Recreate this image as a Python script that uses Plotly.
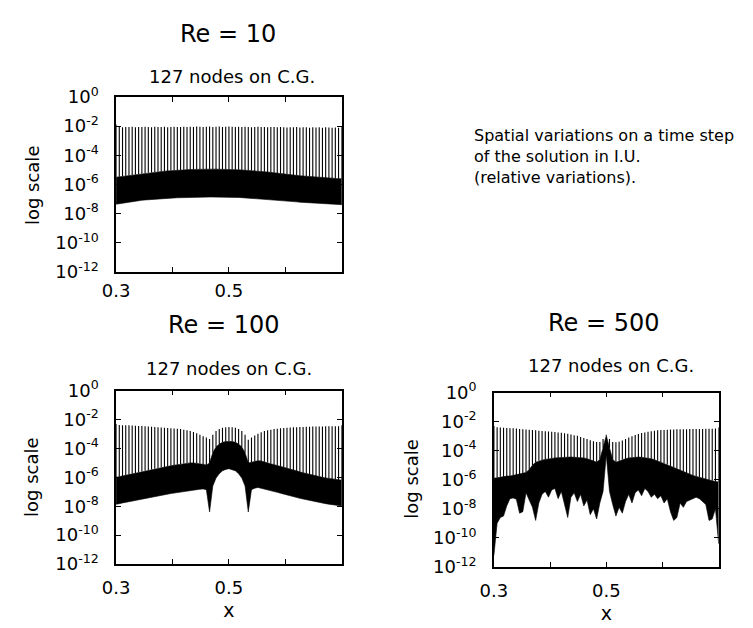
import numpy as np
import plotly.graph_objects as go

# ---------------- data (log10 exponents) ----------------
N_NODES = 71
X_START, X_END = 0.3, 0.7
NODE_X = np.linspace(X_START, X_END, N_NODES)  # uniform grid of mesh nodes

PANEL_TITLES = ["Re = 10", "Re = 100", "Re = 500"]
PANEL_SUBTITLE = "127 nodes on C.G."
NOTE_LINES = ["Spatial variations on a time step", "of the solution in I.U.", "(relative variations)."]

Y_TICK_EXP = [0, -2, -4, -6, -8, -10, -12]
X_TICK_VALS = [0.3, 0.4, 0.5, 0.6, 0.7]
X_TICK_TEXT = ["0.3", "", "0.5", "", ""]

# Re = 10
re10_spike_top = [-1.90, -2.05, -2.08, -2.06, -2.07, -2.05, -2.08, -2.06, -2.07, -2.05,
                  -2.06, -2.08, -2.05, -2.07, -2.06, -2.05, -2.08, -2.06, -2.05, -2.07,
                  -2.06, -2.05, -2.07, -2.05, -2.06, -2.04, -2.05, -2.07, -2.05, -2.04,
                  -2.06, -2.05, -2.04, -2.06, -2.05, -2.04, -2.05, -2.06, -2.05, -2.07,
                  -2.05, -2.06, -2.08, -2.06, -2.05, -2.07, -2.06, -2.08, -2.06, -2.07,
                  -2.09, -2.07, -2.08, -2.10, -2.08, -2.09, -2.07, -2.10, -2.08, -2.09,
                  -2.11, -2.09, -2.10, -2.08, -2.11, -2.09, -2.10, -2.12, -2.10, -2.11,
                  -2.00]
re10_band_top = [-5.50, -5.47, -5.44, -5.41, -5.38, -5.35, -5.32, -5.29, -5.26, -5.23, -5.20,
                 -5.18, -5.15, -5.13, -5.11, -5.09, -5.07, -5.05, -5.03, -5.02, -5.01,
                 -5.00, -4.99, -4.98, -4.97, -4.96, -4.96, -4.95, -4.95, -4.95, -4.95, -4.95, -4.95, -4.96, -4.96, -4.97,
                 -4.98, -4.99, -5.00, -5.01, -5.02, -5.03, -5.05, -5.07, -5.09, -5.11, -5.13, -5.15, -5.18, -5.20, -5.23,
                 -5.25, -5.28, -5.30, -5.33, -5.35, -5.38, -5.40, -5.42, -5.44, -5.46,
                 -5.48, -5.50, -5.52, -5.54, -5.56, -5.57, -5.58, -5.59, -5.60, -5.60]
re10_band_bottom = [-7.35, -7.31, -7.27, -7.23, -7.20, -7.17, -7.14, -7.11, -7.08, -7.06, -7.04,
                    -7.02, -7.00, -6.98, -6.97, -6.95, -6.94, -6.93, -6.92, -6.91, -6.90,
                    -6.89, -6.88, -6.88, -6.87, -6.87, -6.86, -6.86, -6.86, -6.86, -6.86, -6.86, -6.86, -6.86, -6.87, -6.87,
                    -6.88, -6.88, -6.89, -6.90, -6.91, -6.92, -6.93, -6.94, -6.96, -6.97, -6.99, -7.01, -7.03, -7.05, -7.07,
                    -7.09, -7.11, -7.13, -7.15, -7.17, -7.19, -7.21, -7.23, -7.25, -7.27,
                    -7.29, -7.30, -7.31, -7.32, -7.33, -7.34, -7.35, -7.36, -7.37, -7.38]

# Re = 100
re100_spike_top = [-2.30,
                   -2.38, -2.39, -2.40, -2.40, -2.42, -2.43, -2.44, -2.45, -2.47, -2.48,
                   -2.50, -2.51, -2.53, -2.55, -2.56, -2.58, -2.60, -2.62, -2.64, -2.66,
                   -2.70, -2.74, -2.80, -2.86, -2.95, -3.05, -3.15, -3.25,
                   -3.35,
                   -3.05, -2.80, -2.65, -2.57, -2.53, -2.52, -2.53, -2.57, -2.65, -2.80, -3.05,
                   -3.40,
                   -3.25, -3.10, -2.98, -2.88, -2.80, -2.74, -2.70, -2.66, -2.63,
                   -2.60, -2.58, -2.56, -2.55, -2.54, -2.53, -2.52, -2.51, -2.50, -2.50,
                   -2.49, -2.49, -2.48, -2.48, -2.47, -2.47, -2.47, -2.46, -2.46, -2.40]
re100_band_top = [-6.00, -5.95, -5.90, -5.85, -5.80, -5.75, -5.70, -5.65, -5.60, -5.55, -5.50,
                  -5.45, -5.40, -5.36, -5.32, -5.28, -5.24, -5.20, -5.16, -5.12, -5.08,
                  -5.05, -5.02, -5.00, -5.00, -5.02, -5.05, -5.10, -5.15,
                  -5.00,
                  -4.30, -3.90, -3.70, -3.58, -3.52, -3.50, -3.52, -3.58, -3.70, -3.90, -4.30,
                  -5.00,
                  -4.95, -4.88, -4.85, -4.87, -4.92, -4.98, -5.05, -5.12, -5.18,
                  -5.25, -5.32, -5.38, -5.44, -5.50, -5.56, -5.62, -5.68, -5.74, -5.80,
                  -5.85, -5.90, -5.95, -6.00, -6.04, -6.08, -6.12, -6.15, -6.18, -6.20]
re100_band_bottom = [-7.87, -7.82, -7.77, -7.72, -7.67, -7.62, -7.57, -7.52, -7.48, -7.44, -7.40,
                     -7.36, -7.32, -7.28, -7.24, -7.20, -7.16, -7.12, -7.09, -7.06, -7.03,
                     -7.00, -6.97, -6.94, -6.90, -6.86, -6.82, -6.80, -6.85,
                     -8.40,
                     -6.60, -6.05, -5.75, -5.55, -5.45, -5.40, -5.45, -5.55, -5.75, -6.05, -6.60,
                     -8.40,
                     -6.85, -6.75, -6.70, -6.74, -6.80, -6.86, -6.92, -6.98, -7.04,
                     -7.10, -7.16, -7.22, -7.28, -7.34, -7.40, -7.45, -7.50, -7.55, -7.60,
                     -7.65, -7.70, -7.74, -7.78, -7.82, -7.86, -7.90, -7.93, -7.96, -7.98]

# Re = 500
re500_spike_top = [-2.30,
                   -2.39, -2.40, -2.42, -2.43, -2.45, -2.46, -2.48, -2.50, -2.52, -2.54,
                   -2.56, -2.58, -2.60, -2.62, -2.64, -2.66, -2.68, -2.70, -2.72, -2.74,
                   -2.77, -2.80, -2.84, -2.88, -2.93, -2.98, -3.05, -3.12, -3.20, -3.28,
                   -3.35, -3.40, -3.40, -3.20,
                   -2.90,
                   -3.20, -3.40, -3.42, -3.38,
                   -3.30, -3.20, -3.10, -3.00, -2.92, -2.85, -2.79, -2.74, -2.70, -2.66, -2.63,
                   -2.60, -2.58, -2.57, -2.56, -2.55, -2.54, -2.53, -2.53, -2.52, -2.52,
                   -2.51, -2.51, -2.50, -2.50, -2.50, -2.49, -2.49, -2.49, -2.48, -2.40]
re500_band_top = [-5.90, -5.85, -5.80, -5.80, -5.75, -5.75, -5.70, -5.70, -5.65, -5.60, -5.50,
                  -5.30, -5.00, -4.80, -4.70, -4.65, -4.60, -4.55, -4.52, -4.50, -4.48,
                  -4.46, -4.45, -4.44, -4.44, -4.45, -4.46, -4.48, -4.50, -4.55, -4.60,
                  -4.70, -4.80, -4.60, -3.80,
                  -2.95,
                  -3.80, -4.60, -4.80, -4.70,
                  -4.60, -4.55, -4.50, -4.47, -4.45, -4.44, -4.45, -4.47, -4.50, -4.55, -4.62,
                  -4.70, -4.78, -4.86, -4.95, -5.05, -5.15, -5.25, -5.35, -5.45, -5.55,
                  -5.62, -5.70, -5.77, -5.84, -5.90, -5.96, -6.02, -6.07, -6.12, -6.15]
re500_band_bottom = [-11.20,
                     -9.00, -8.60, -8.50, -7.80, -7.30, -7.25, -7.35, -8.30, -8.20, -6.90,
                     -7.40, -7.90, -8.80, -7.60, -7.00, -6.80, -7.20, -6.70, -6.60, -7.30,
                     -6.80, -7.60, -8.60, -7.20, -6.90, -7.50, -7.00, -7.80, -7.40, -8.40,
                     -8.00, -8.70, -7.60, -6.80,
                     -4.30,
                     -6.80, -7.70, -8.50, -7.90,
                     -8.30, -7.50, -7.00, -7.60, -6.90, -6.70, -7.10, -6.60, -6.80, -7.20, -7.00,
                     -7.30, -7.10, -7.60, -7.30, -8.20, -8.80, -8.60, -7.60, -7.90, -7.50,
                     -7.40, -7.30, -7.20, -7.30, -7.50, -7.70, -8.80, -8.70, -8.00, -10.40]

PANELS = [
    (re10_spike_top, re10_band_top, re10_band_bottom),
    (re100_spike_top, re100_band_top, re100_band_bottom),
    (re500_spike_top, re500_band_top, re500_band_bottom),
]

# ---------------- layout geometry (pixels of the 753x628 page) ----------------
W, H = 753, 628
FONT = "DejaVu Sans, Liberation Sans, Arial, sans-serif"
# (left, right, top, bottom) of each plot box
BOXES = [(104, 334, 87, 269), (104, 334, 392, 572), (489, 718, 394, 575)]
X_LABEL_STANDOFF = [2, 7, 7]


def px_x(p):
    return p / W


def px_y(p):
    return 1 - p / H


fig = go.Figure()

for k, (spike, btop, bbot) in enumerate(PANELS):
    xa = "x" if k == 0 else f"x{k + 1}"
    ya = "y" if k == 0 else f"y{k + 1}"
    xs = list(NODE_X)
    # dense oscillation band
    poly_x = xs + xs[::-1]
    poly_y = [10 ** v for v in btop] + [10 ** v for v in bbot[::-1]]
    fig.add_trace(go.Scatter(x=poly_x, y=poly_y, mode="lines", fill="toself",
                             fillcolor="black", line=dict(color="black", width=0.6),
                             xaxis=xa, yaxis=ya, showlegend=False, hoverinfo="skip"))
    # node-to-node spikes
    sx, sy = [], []
    for x, b, s in zip(xs, btop, spike):
        sx += [x, x, None]
        sy += [10 ** b, 10 ** s, None]
    fig.add_trace(go.Scatter(x=sx, y=sy, mode="lines", line=dict(color="black", width=1.1),
                             xaxis=xa, yaxis=ya, showlegend=False, hoverinfo="skip"))

axis_common = dict(showline=True, linecolor="black", linewidth=1.5, mirror="ticks",
                   ticks="inside", ticklen=5, tickwidth=1, tickcolor="black",
                   showgrid=False, zeroline=False,
                   tickfont=dict(family=FONT, size=18, color="black"))

layout_axes = {}
for k, (l, r, t, b) in enumerate(BOXES):
    xn = "xaxis" if k == 0 else f"xaxis{k + 1}"
    yn = "yaxis" if k == 0 else f"yaxis{k + 1}"
    xa = "x" if k == 0 else f"x{k + 1}"
    ya = "y" if k == 0 else f"y{k + 1}"
    xaxis_def = dict(axis_common, domain=[px_x(l), px_x(r)], anchor=ya,
                     range=[X_START, X_END], tickvals=X_TICK_VALS, ticktext=X_TICK_TEXT,
                     ticklabelstandoff=X_LABEL_STANDOFF[k])
    if k > 0:
        xaxis_def["title"] = dict(text="x", standoff=6,
                                  font=dict(family=FONT, size=19, color="black"))
    layout_axes[xn] = xaxis_def
    layout_axes[yn] = dict(axis_common, domain=[px_y(b), px_y(t)], anchor=xa, type="log",
                           range=[-12, 0], tickvals=[10.0 ** e for e in Y_TICK_EXP],
                           ticktext=[f"10<sup>{e}</sup>" for e in Y_TICK_EXP],
                           ticklabelstandoff=12)

annotations = []


def add_text(text, xp, yp, size, xanchor="center", angle=0, align="center"):
    annotations.append(dict(text=text, x=px_x(xp), y=px_y(yp), xref="paper", yref="paper",
                            showarrow=False, xanchor=xanchor, yanchor="middle", textangle=angle,
                            align=align, font=dict(family=FONT, size=size, color="black")))


# titles and subtitles
title_pos = [(218, 22), (214, 324), (601, 322)]
sub_pos = [(222, 66), (219, 369), (608, 366)]
for k in range(3):
    add_text(PANEL_TITLES[k], *title_pos[k], 24)
    add_text(PANEL_SUBTITLE, *sub_pos[k], 18)

# y-axis titles
for (xp, yp) in [(19, 179), (18, 482), (405, 483)]:
    add_text("log scale", xp, yp, 18, angle=-90)

# note block (one text, three lines)
add_text("<br>".join(NOTE_LINES), 467, 149, 16, xanchor="left", align="left")

fig.update_layout(width=W, height=H, autosize=False, margin=dict(l=0, r=0, t=0, b=0),
                  paper_bgcolor="white", plot_bgcolor="white",
                  annotations=annotations, **layout_axes)

fig.write_html("out.html", config={"displayModeBar": False},
               post_script="document.body.style.margin='0';")
